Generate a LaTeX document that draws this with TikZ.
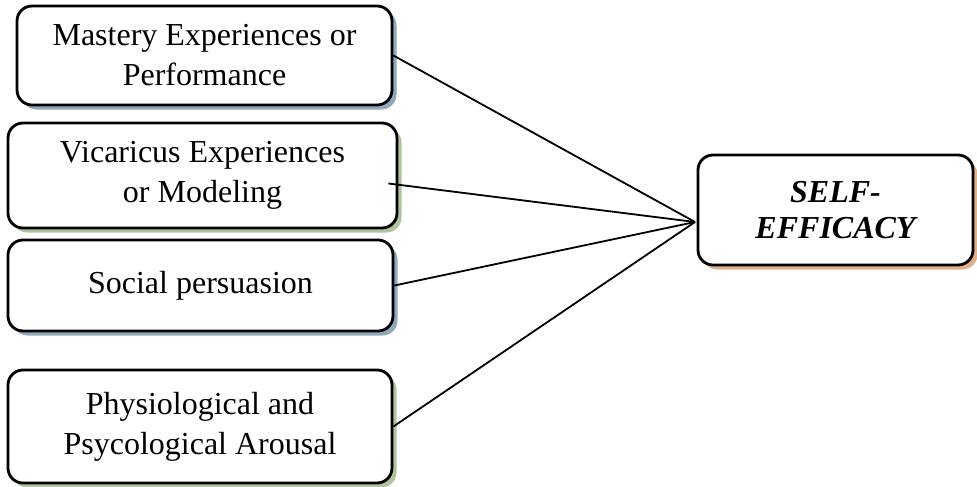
\documentclass[tikz,border=0pt]{standalone}
\usepackage{fontspec}
\setmainfont{Liberation Serif}
\usetikzlibrary{shadows}
\definecolor{shblue}{HTML}{8FA9BA}
\definecolor{shgreen}{HTML}{AFC39C}
\definecolor{shtan}{HTML}{DDB08A}
\begin{document}
\begin{tikzpicture}[x=1pt,y=-1pt,
  srcbox/.style={draw=black,line width=2.8pt,rounded corners=15pt,fill=white,
    align=center,inner sep=0pt,font=\fontsize{32}{40}\selectfont},
  shade1/.style={drop shadow={shadow xshift=4.5pt,shadow yshift=-4.5pt,fill=#1,opacity=1}},
  link/.style={line width=1.8pt}]
\useasboundingbox (0,0) rectangle (977,487);
% sources
\node[srcbox,shade1=shblue,minimum width=375pt,minimum height=99pt] (mast) at (204.5,55.5)
  {Mastery Experiences or\\Performance};
\node[srcbox,shade1=shgreen,minimum width=389pt,minimum height=105pt] (vica) at (202.5,175.5)
  {Vicaricus Experiences\\or Modeling};
\node[srcbox,shade1=shblue,minimum width=385pt,minimum height=91pt] (soc) at (200.5,285.5)
  {Social persuasion};
\node[srcbox,shade1=shgreen,minimum width=384pt,minimum height=113pt] (phys) at (200,426.5)
  {Physiological and\\Psycological Arousal};
% target
\node[srcbox,shade1=shtan,minimum width=275pt,minimum height=110pt,
  font=\fontsize{32}{36}\selectfont] (self) at (835.5,210)
  {\bfseries\itshape SELF-\\\bfseries\itshape EFFICACY};
\coordinate (hub) at (695,222);
\draw[link] (mast.east) -- (hub);
\draw[link] ([xshift=-10pt,yshift=-8pt]vica.east) -- (hub);
\draw[link] (soc.east) -- (hub);
\draw[link] (phys.east) -- (hub);
\end{tikzpicture}
\end{document}
